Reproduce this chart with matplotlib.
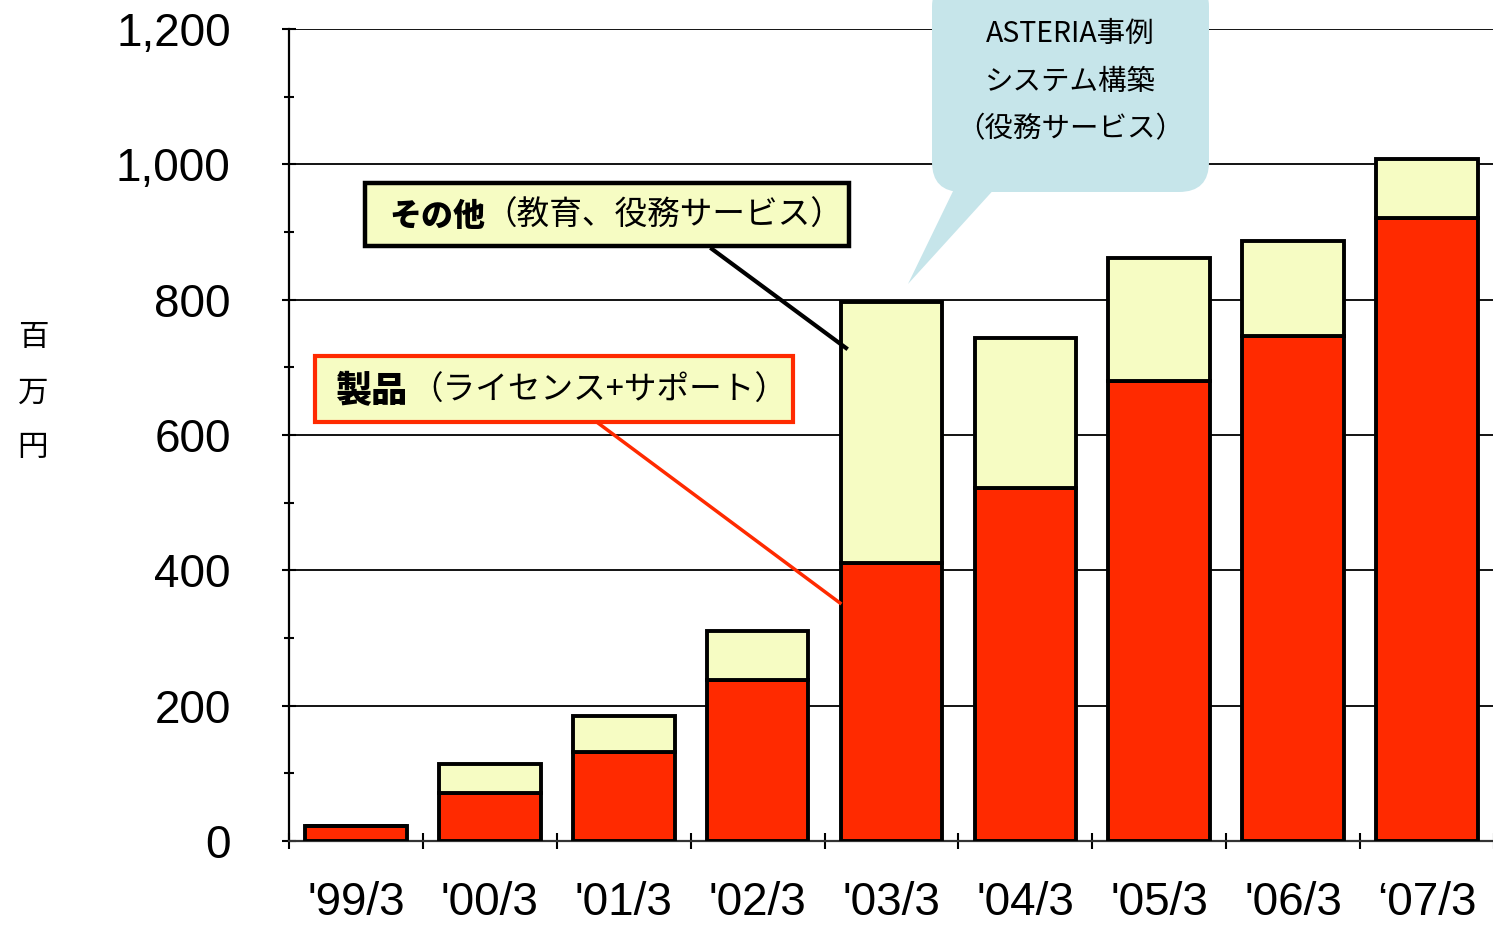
import matplotlib
matplotlib.use('Agg')
import matplotlib.pyplot as plt
from matplotlib.patches import FancyBboxPatch, Polygon, Rectangle
from matplotlib.lines import Line2D
from matplotlib.transforms import IdentityTransform
from matplotlib.ticker import FuncFormatter, MultipleLocator
import numpy as np

plt.rcParams['font.family'] = ['Liberation Sans', 'Noto Sans CJK JP']

# 売上推移（百万円）
years = ["'99/3", "'00/3", "'01/3", "'02/3", "'03/3", "'04/3", "'05/3", "'06/3", "\u201807/3"]
product = [22, 71, 131, 238, 411, 522, 680, 746, 921]      # 製品（ライセンス+サポート）
other = [0, 43, 54, 72, 386, 221, 182, 141, 87]            # その他（教育、役務サービス）

RED = '#ff2a00'
YELLOW = '#f6fcc3'
BLUE = '#c6e5ea'
JP = ['Noto Sans CJK JP', 'DejaVu Sans']

W, H = 1493, 925
fig = plt.figure(figsize=(W / 100, H / 100), dpi=100)
ax = fig.add_axes([289 / W, (H - 841) / H, 1205 / W, 812 / H])

x = np.arange(len(years))
ax.bar(x, product, width=0.76, color=RED, edgecolor='black', linewidth=2.8, zorder=3)
ax.bar(x, other, bottom=product, width=0.76, color=YELLOW, edgecolor='black',
       linewidth=2.8, zorder=3)

ax.set_xlim(-0.5, len(years) - 0.5)
ax.set_ylim(0, 1200)
ax.yaxis.set_major_locator(MultipleLocator(200))
ax.yaxis.set_minor_locator(MultipleLocator(100))
ax.yaxis.set_major_formatter(FuncFormatter(lambda v, p: f'{int(v):,}'))
ax.set_xticks(x)
ax.set_xticklabels(years)
ax.set_xticks(np.arange(-0.5, len(years)), minor=True)

ax.tick_params(axis='y', which='major', direction='inout', length=10, width=1.5,
               labelsize=33, pad=37)
ax.tick_params(axis='y', which='minor', direction='inout', length=7, width=1.5)
ax.tick_params(axis='x', which='major', length=0, labelsize=33, pad=29)
ax.tick_params(axis='x', which='minor', direction='inout', length=12, width=1.5)

ax.yaxis.grid(True, color='black', linewidth=1.3, zorder=1)
ax.set_axisbelow(True)
for s in ['top', 'right']:
    ax.spines[s].set_visible(False)
ax.spines['left'].set_linewidth(1.6)
ax.spines['bottom'].set_linewidth(1.6)
ax.spines['bottom'].set_color('#333333')

fig.text(33 / W, 1 - 393 / H, '百\n万\n円', ha='center', va='center', fontsize=22,
         family=JP, linespacing=2.0)


def P(px, py):
    return (px, H - py)


pix = IdentityTransform()

# 吹き出し
fig.patches.append(FancyBboxPatch(P(932, 192), 1209 - 932, 215,
                                  boxstyle='round,pad=0,rounding_size=30',
                                  facecolor=BLUE, edgecolor='none', transform=pix,
                                  zorder=5))
fig.patches.append(Polygon([P(956, 185), P(998, 185), P(908, 284)], closed=True,
                           facecolor=BLUE, edgecolor='none', transform=pix, zorder=5))
for i, line in enumerate(['ASTERIA事例', 'システム構築', '（役務サービス）']):
    fig.text(1070 / W, 1 - (34 + 47.5 * i) / H, line, ha='center', va='center',
             fontsize=20.5, family=JP, zorder=6)

# その他 ラベル
fig.lines.append(Line2D([712, 846], [H - 249, H - 348], color='black', linewidth=3,
                        transform=pix, zorder=5))
fig.patches.append(Rectangle(P(365, 246), 849 - 365, 246 - 183, facecolor=YELLOW,
                             edgecolor='black', linewidth=3.2, transform=pix, zorder=5))
fig.text(389 / W, 1 - 216 / H, 'その他', ha='left', va='center', fontsize=23,
         family=JP, fontweight='heavy', zorder=6)
fig.text(484 / W, 1 - 216 / H, '（教育、役務サービス）', ha='left', va='center',
         fontsize=23.5, family=JP, zorder=6)

# 製品 ラベル
fig.lines.append(Line2D([598, 840], [H - 423, H - 603], color=RED, linewidth=2.5,
                        transform=pix, zorder=5))
fig.patches.append(Rectangle(P(315, 422), 793 - 315, 422 - 356, facecolor=YELLOW,
                             edgecolor=RED, linewidth=3, transform=pix, zorder=5))
fig.text(336 / W, 1 - 391 / H, '製品', ha='left', va='center', fontsize=26,
         family=JP, fontweight='heavy', zorder=6)
fig.text(410 / W, 1 - 391 / H, '（ライセンス+サポート）', ha='left', va='center',
         fontsize=23.5, family=JP, zorder=6)

fig.savefig('out.png', dpi=100)
